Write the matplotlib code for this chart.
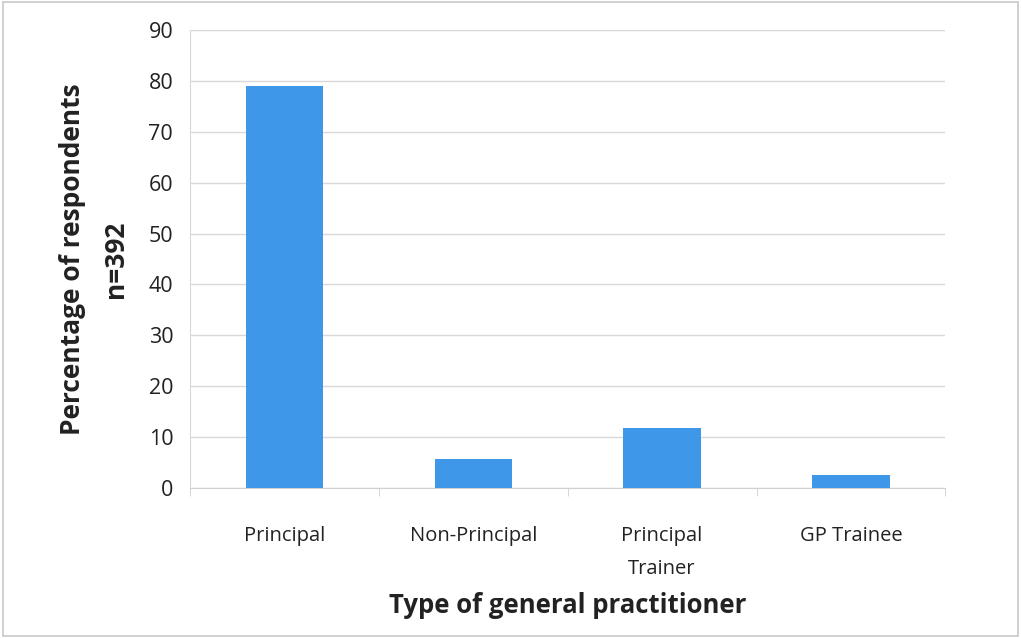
import matplotlib
matplotlib.use("Agg")
import matplotlib.pyplot as plt
from matplotlib.patches import Rectangle

categories = ["Principal", "Non-Principal", "Principal\nTrainer", "GP Trainee"]
values = [79.0, 5.8, 11.8, 2.6]
yticks = [0, 10, 20, 30, 40, 50, 60, 70, 80, 90]

plt.rcParams['font.family'] = ['Open Sans', 'DejaVu Sans']

fig = plt.figure(figsize=(10.21, 6.38), dpi=100)
fig.patch.set_facecolor("white")
ax = fig.add_axes([0.186, 0.235, 0.740, 0.718])
ax.set_facecolor("white")

x = list(range(len(categories)))
ax.bar(x, values, width=0.41, color="#3f97ea", zorder=3)

ax.set_xlim(-0.5, len(categories) - 0.5)
ax.set_ylim(0, 90)
ax.set_yticks(yticks)
ax.set_yticklabels([str(t) for t in yticks], fontsize=15.5, color="#222222")
ax.set_xticks(x)
ax.set_xticklabels(categories, fontsize=14.5, color="#222222", linespacing=1.9)
ax.tick_params(axis="x", length=0, pad=27)
ax.tick_params(axis="y", length=0, pad=12)

# category boundary ticks
ax.set_xticks([i + 0.5 for i in range(-1, len(categories))], minor=True)
ax.tick_params(axis="x", which="minor", length=6, color="#d0d0d0", direction="out")

ax.grid(axis="y", color="#d8d8d8", linewidth=1, zorder=0)
for s in ["top", "right"]:
    ax.spines[s].set_visible(False)
ax.spines["left"].set_color("#d8d8d8")
ax.spines["bottom"].set_color("#d0d0d0")

ax.set_ylabel("Percentage of respondents\nn=392", fontsize=19, fontweight="bold",
              color="#222222", labelpad=14, linespacing=1.75)
ax.set_xlabel("Type of general practitioner", fontsize=18.5, fontweight="bold",
              color="#222222", labelpad=9)

fig.patches.append(Rectangle((0.003, 0.003), 0.994, 0.994, transform=fig.transFigure,
                             fill=False, edgecolor="#c8c8c8", linewidth=1.2))

fig.savefig("out.png", dpi=100)
